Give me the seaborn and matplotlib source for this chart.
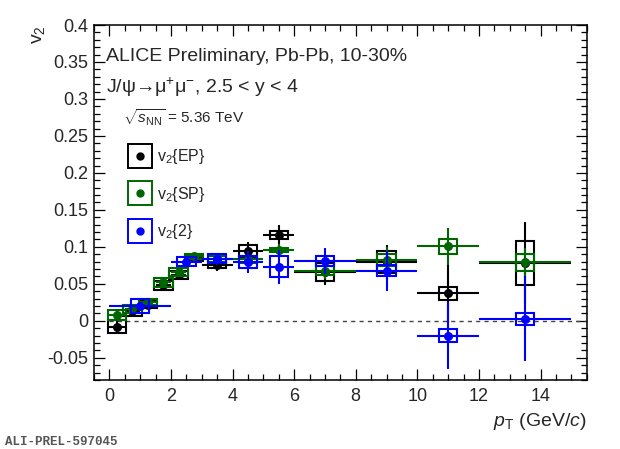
import numpy as np
import pandas as pd
import matplotlib
matplotlib.use("Agg")
import matplotlib.pyplot as plt
from matplotlib.patches import Rectangle
from matplotlib.lines import Line2D
from matplotlib.ticker import MultipleLocator
import seaborn as sns

# v2{EP}
ep_pt = [0.25, 0.75, 1.25, 1.75, 2.25, 2.75, 3.5, 4.5, 5.5, 7.0, 9.0, 11.0, 13.5]
ep_pt_err = [0.25, 0.25, 0.25, 0.25, 0.25, 0.25, 0.5, 0.5, 0.5, 1.0, 1.0, 1.0, 1.5]
ep_v2 = [-0.008, 0.013, 0.022, 0.048, 0.062, 0.085, 0.075, 0.094, 0.116, 0.066, 0.079, 0.037, 0.078]
ep_stat = [0.010, 0.006, 0.005, 0.006, 0.006, 0.006, 0.007, 0.012, 0.014, 0.018, 0.024, 0.040, 0.055]
ep_sys = [0.009, 0.007, 0.005, 0.006, 0.005, 0.004, 0.004, 0.009, 0.005, 0.012, 0.015, 0.009, 0.030]

# v2{SP}
sp_pt = [0.25, 0.75, 1.25, 1.75, 2.25, 2.75, 3.5, 4.5, 5.5, 7.0, 9.0, 11.0, 13.5]
sp_pt_err = [0.25, 0.25, 0.25, 0.25, 0.25, 0.25, 0.5, 0.5, 0.5, 1.0, 1.0, 1.0, 1.5]
sp_v2 = [0.008, 0.016, 0.025, 0.052, 0.066, 0.087, 0.084, 0.083, 0.096, 0.068, 0.082, 0.101, 0.079]
sp_stat = [0.006, 0.005, 0.004, 0.005, 0.005, 0.004, 0.005, 0.008, 0.008, 0.012, 0.018, 0.025, 0.020]
sp_sys = [0.007, 0.006, 0.004, 0.006, 0.005, 0.004, 0.004, 0.005, 0.003, 0.006, 0.008, 0.010, 0.012]

# v2{2}
c2_pt = [1.0, 2.5, 3.5, 4.5, 5.5, 7.0, 9.0, 11.0, 13.5]
c2_pt_err = [1.0, 0.5, 0.5, 0.5, 0.5, 1.0, 1.0, 1.0, 1.5]
c2_v2 = [0.020, 0.080, 0.084, 0.080, 0.073, 0.081, 0.068, -0.020, 0.003]
c2_stat = [0.005, 0.006, 0.008, 0.015, 0.023, 0.018, 0.027, 0.045, 0.057]
c2_sys = [0.009, 0.006, 0.006, 0.008, 0.014, 0.007, 0.008, 0.009, 0.008]

series = [
    ("v$_2${EP}", ep_pt, ep_pt_err, ep_v2, ep_stat, ep_sys, "black"),
    ("v$_2${SP}", sp_pt, sp_pt_err, sp_v2, sp_stat, sp_sys, "#006600"),
    ("v$_2${2}", c2_pt, c2_pt_err, c2_v2, c2_stat, c2_sys, "#0000ff"),
]

sns.set_theme(style="ticks")
plt.rcParams["font.family"] = ["Liberation Sans", "DejaVu Sans"]
plt.rcParams["mathtext.fontset"] = "custom"
plt.rcParams["mathtext.rm"] = "Liberation Sans"
plt.rcParams["mathtext.it"] = "Liberation Sans:italic"
plt.rcParams["mathtext.bf"] = "Liberation Sans:bold"

fig = plt.figure(figsize=(6.2, 4.49), dpi=100)
ax = fig.add_axes([0.1516, 0.1537, 0.7947, 0.7906])

ax.hlines(0, 0, 15.5, colors="#444444", linestyles=(0, (3, 3)), linewidth=1.0, zorder=1)

box_hw = 0.3
handles = []
for i, (label, pt, pterr, v2, stat, sys_, col) in enumerate(series):
    z = 3 + i
    ax.errorbar(pt, v2, xerr=pterr, yerr=stat, fmt="none", ecolor=col,
                elinewidth=1.5, capsize=0, zorder=z)
    for x, y, s in zip(pt, v2, sys_):
        ax.add_patch(Rectangle((x - box_hw, y - s), 2 * box_hw, 2 * s,
                               fill=False, edgecolor=col, linewidth=1.5, zorder=z))
    df = pd.DataFrame({"pt": pt, "v2": v2})
    sns.scatterplot(data=df, x="pt", y="v2", ax=ax, color=col, s=42,
                    edgecolor=col, linewidth=0, zorder=z + 0.5)
    handles.append((Line2D([], [], marker="s", markersize=17, fillstyle="none",
                           markeredgecolor=col, markeredgewidth=1.4, linestyle="none"),
                    Line2D([], [], marker="o", markersize=5, color=col, linestyle="none")))

ax.set_xlim(-0.5, 15.5)
ax.set_ylim(-0.08, 0.4)
ax.xaxis.set_major_locator(MultipleLocator(2))
ax.xaxis.set_minor_locator(MultipleLocator(0.5))
ax.yaxis.set_minor_locator(MultipleLocator(0.01))
ax.set_yticks(np.arange(-0.05, 0.401, 0.05))
ax.set_yticklabels(["-0.05", "0", "0.05", "0.1", "0.15", "0.2", "0.25", "0.3", "0.35", "0.4"])
ax.tick_params(which="both", direction="in", top=True, right=True, labelsize=13, color="black")
ax.tick_params(which="major", length=8, width=0.9)
ax.tick_params(which="minor", length=4, width=0.9)
ax.tick_params(axis="x", pad=6)
ax.tick_params(axis="y", pad=4)
for sp in ax.spines.values():
    sp.set_linewidth(1.1)
    sp.set_color("black")

ax.set_xlabel("$p_{\\rm T}$ (GeV/$c$)", fontsize=14, loc="right", labelpad=4)
ax.set_ylabel("v$_2$", fontsize=14, loc="top", labelpad=0)

ax.text(0.025, 0.91, "ALICE Preliminary, Pb-Pb, 10-30%", transform=ax.transAxes,
        fontsize=14, va="center", ha="left")
ax.text(0.025, 0.825, "J/\u03c8\u2192\u03bc$^{+}$\u03bc$^{-}$, 2.5 < y < 4", transform=ax.transAxes,
        fontsize=14, va="center", ha="left")
ax.text(0.058, 0.74, "$\\sqrt{s_{\\rm NN}}$ = 5.36 TeV", transform=ax.transAxes,
        fontsize=11, va="center", ha="left")

ax.legend(handles, [s[0] for s in series], loc="upper left", bbox_to_anchor=(0.06, 0.673),
          frameon=False, fontsize=11.5, handlelength=1.3, handletextpad=0.4,
          labelspacing=1.15, borderaxespad=0)

fig.text(0.008, 0.01, "ALI-PREL-597045", family="Liberation Mono", weight="bold",
         color="#555555", fontsize=9)

fig.savefig("out.png", dpi=100)
